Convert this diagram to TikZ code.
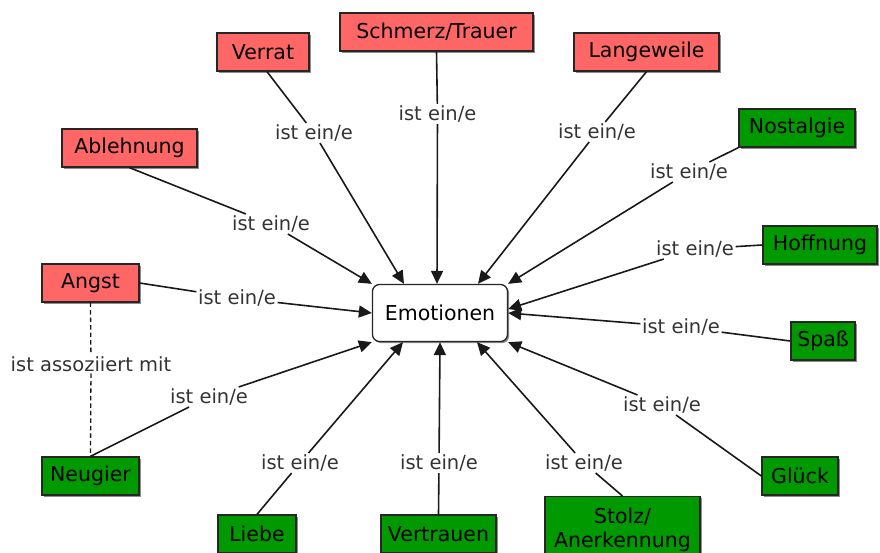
\documentclass[tikz,border=0pt]{standalone}
\usepackage{fontspec}
\setmainfont{DejaVu Sans}
\usetikzlibrary{arrows.meta,shadows}
\definecolor{negfill}{HTML}{FF6666}
\definecolor{posfill}{HTML}{009900}
\begin{document}
\begin{tikzpicture}[x=1pt,y=-1pt,
  box/.style={draw=black!85, line width=1.3pt, minimum height=38pt, inner sep=2pt,
    font=\fontsize{20.5}{24}\selectfont,
    drop shadow={shadow xshift=1.6pt,shadow yshift=-1.6pt,fill=black!45,opacity=1}},
  negbox/.style={box, fill=negfill},
  posbox/.style={box, fill=posfill},
  centerbox/.style={box, fill=white, rounded corners=7pt},
  rel/.style={font=\fontsize{19.5}{22}\selectfont, text=black!80, inner sep=1.5pt},
  link/.style={line width=1.6pt, draw=black!90},
  isa/.style={link, -{Triangle[length=13pt,width=12pt]}},
  assoc/.style={line width=1.3pt, draw=black!90, dash pattern=on 4.5pt off 3pt}
]
\clip (0,0) rectangle (880,552);

% central concept
\node[centerbox, minimum width=135pt, minimum height=57pt] (emo) at (440,313) {Emotionen};

% negative emotions
\node[negbox, minimum width=92pt]  (verrat)    at (263,52)    {Verrat};
\node[negbox, minimum width=193pt] (schmerz)   at (436.5,32)  {Schmerz/Trauer};
\node[negbox, minimum width=145pt] (lang)      at (646.5,52)  {Langeweile};
\node[negbox, minimum width=135pt] (ablehnung) at (129.5,148) {Ablehnung};
\node[negbox, minimum width=97pt]  (angst)     at (90.5,283)  {Angst};

% positive emotions
\node[posbox, minimum width=116pt] (nostalgie) at (797,128)   {Nostalgie};
\node[posbox, minimum width=114pt] (hoffnung)  at (820,245)   {Hoffnung};
\node[posbox, minimum width=64pt]  (spass)     at (823,341)   {Spaß};
\node[posbox, minimum width=97pt]  (neugier)   at (90.5,476)  {Neugier};
\node[posbox, minimum width=76pt]  (glueck)    at (800,476)   {Glück};
\node[posbox, minimum width=78pt]  (liebe)     at (257,534)   {Liebe};
\node[posbox, minimum width=115pt] (vertrauen) at (438.5,534) {Vertrauen};
\node[posbox, minimum width=155pt, minimum height=66pt, align=center, anchor=north]
     (stolz) at (622.5,496) {Stolz/\\Anerkennung};

% relation labels
\node[rel] (l-ablehnung) at (271,224)   {ist ein/e};
\node[rel] (l-verrat)    at (314,133)   {ist ein/e};
\node[rel] (l-schmerz)   at (437.5,114) {ist ein/e};
\node[rel] (l-lang)      at (597,132)   {ist ein/e};
\node[rel] (l-nostalgie) at (689,172)   {ist ein/e};
\node[rel] (l-hoffnung)  at (695,249)   {ist ein/e};
\node[rel] (l-angst)     at (237,298)   {ist ein/e};
\node[rel] (l-spass)     at (681,327)   {ist ein/e};
\node[rel] (l-neugier)   at (209,397)   {ist ein/e};
\node[rel] (l-glueck)    at (662,405)   {ist ein/e};
\node[rel] (l-liebe)     at (300,463)   {ist ein/e};
\node[rel] (l-vertrauen) at (439,463)   {ist ein/e};
\node[rel] (l-stolz)     at (584,463)   {ist ein/e};
\node[rel] (l-assoc)     at (91,364)    {ist assoziiert mit};

% "ist ein/e" connectors
\draw[link] (ablehnung.south) -- (l-ablehnung);
\draw[isa]  (l-ablehnung) -- (emo.north west);
\draw[link] ([xshift=4pt]verrat.south) -- (l-verrat);
\draw[isa]  (l-verrat) -- ([xshift=-36pt]emo.north);
\draw[link] (schmerz.south) -- (l-schmerz);
\draw[isa]  (l-schmerz) -- ([xshift=-3pt]emo.north);
\draw[link] (lang.south) -- (l-lang);
\draw[isa]  (l-lang) -- ([xshift=38pt]emo.north);
\draw[link] (nostalgie.south west) -- (l-nostalgie);
\draw[isa]  (l-nostalgie) -- (emo.north east);
\draw[link] (hoffnung.west) -- (l-hoffnung);
\draw[isa]  (l-hoffnung) -- ([yshift=4pt]emo.east);
\draw[link] (angst.east) -- (l-angst);
\draw[isa]  (l-angst) -- (emo.west);
\draw[link] (spass.west) -- (l-spass);
\draw[isa]  (l-spass) -- (emo.east);
\draw[link] (neugier.north) -- (l-neugier);
\draw[isa]  (l-neugier) -- (emo.south west);
\draw[link] (glueck.west) -- (l-glueck);
\draw[isa]  (l-glueck) -- (emo.south east);
\draw[link] (liebe.north) -- (l-liebe);
\draw[isa]  (l-liebe) -- ([xshift=-37pt]emo.south);
\draw[link] (vertrauen.north) -- (l-vertrauen);
\draw[isa]  (l-vertrauen) -- (emo.south);
\draw[link] (stolz.north) -- (l-stolz);
\draw[isa]  (l-stolz) -- ([xshift=37pt]emo.south);

% association
\draw[assoc] (angst.south) -- (l-assoc);
\draw[assoc] (l-assoc) -- (neugier.north);
\end{tikzpicture}
\end{document}
